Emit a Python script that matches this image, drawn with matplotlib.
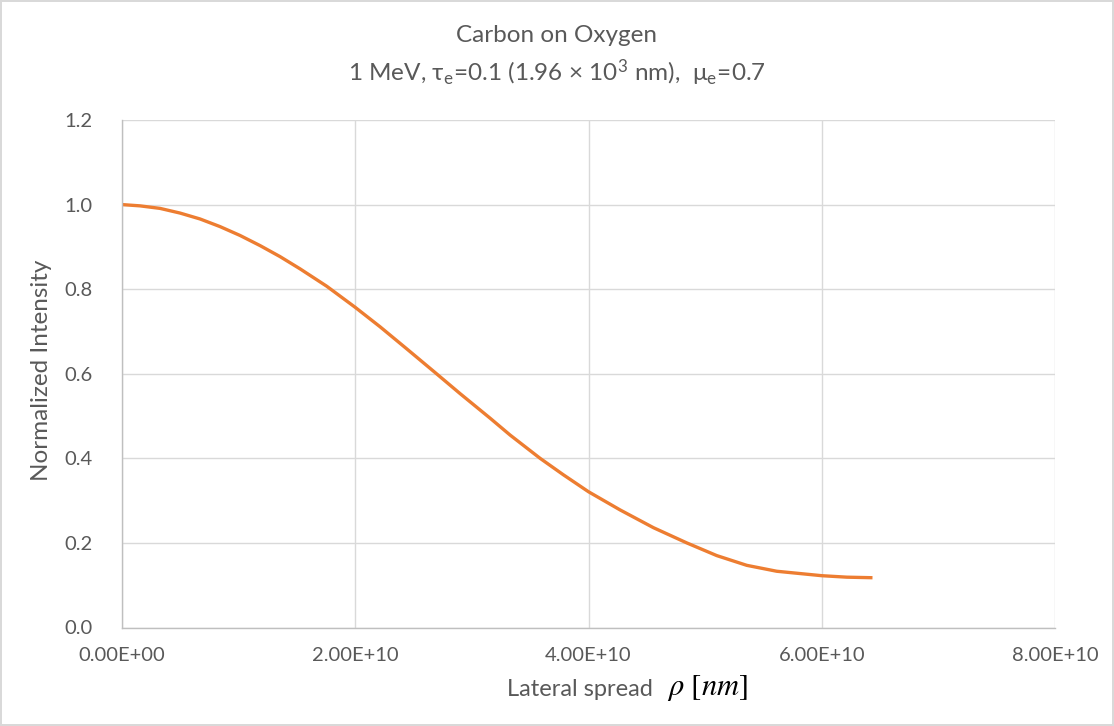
import matplotlib
matplotlib.use("Agg")
import matplotlib.pyplot as plt
from matplotlib.ticker import FuncFormatter, MultipleLocator

plt.rcParams['font.family'] = ['Lato', 'DejaVu Sans']
plt.rcParams['mathtext.fontset'] = 'stix'

# Data (lateral spread in nm, normalized intensity)
rho = [0.0, 0.154e10, 0.326e10, 0.497e10, 0.669e10, 0.840e10, 1.012e10,
       1.184e10, 1.355e10, 1.527e10, 1.755e10, 2.000e10, 2.213e10, 2.441e10,
       2.684e10, 2.899e10, 3.156e10, 3.328e10, 3.585e10, 3.785e10, 4.000e10,
       4.271e10, 4.557e10, 4.843e10, 5.100e10, 5.357e10, 5.614e10, 6.000e10,
       6.215e10, 6.435e10]
intensity = [1.000, 0.997, 0.991, 0.980, 0.966, 0.948, 0.927,
             0.903, 0.877, 0.848, 0.807, 0.757, 0.711, 0.659,
             0.603, 0.553, 0.495, 0.455, 0.400, 0.361, 0.321,
             0.278, 0.236, 0.200, 0.170, 0.147, 0.133, 0.1225,
             0.119, 0.1177]

title = "Carbon on Oxygen"
subtitle = (r"1 MeV, τ$_\mathregular{e}$=0.1 (1.96 × 10$^\mathregular{3}$ nm),  "
            r"μ$_\mathregular{e}$=0.7")
xlabel_text = "Lateral spread"
xlabel_math = r"$\rho\ [nm]$"
ylabel = "Normalized Intensity"

text_color = "#595959"
grid_color = "#d9d9d9"
line_color = "#ED7D31"

W, H = 1114, 726
fig = plt.figure(figsize=(W / 100, H / 100), dpi=100)
fig.patch.set_facecolor("white")
fig.patch.set_edgecolor(grid_color)
fig.patch.set_linewidth(1.5)

ax = fig.add_axes([122 / W, (H - 627.5) / H, (1055 - 122) / W, (627.5 - 120) / H])
ax.plot(rho, intensity, color=line_color, lw=2.4, solid_capstyle='butt',
        solid_joinstyle='round')

ax.set_xlim(0, 8e10)
ax.set_ylim(0, 1.2)
ax.xaxis.set_major_locator(MultipleLocator(2e10))
ax.yaxis.set_major_locator(MultipleLocator(0.2))
ax.xaxis.set_major_formatter(FuncFormatter(lambda v, p: f"{v:.2E}"))
ax.yaxis.set_major_formatter(FuncFormatter(lambda v, p: f"{v:.1f}"))
ax.grid(True, color=grid_color, lw=1)
ax.set_axisbelow(True)
for s in ["top", "right"]:
    ax.spines[s].set_visible(False)
for s in ["left", "bottom"]:
    ax.spines[s].set_color("#bfbfbf")
    ax.spines[s].set_linewidth(1)
ax.tick_params(length=0, labelsize=14.5, labelcolor=text_color)
ax.tick_params(axis='y', pad=21)
ax.tick_params(axis='x', pad=14)

fig.text(42 / W, 1 - 370 / H, ylabel, rotation=90, ha="center", va="center",
         fontsize=17.5, color=text_color)
fig.text(653 / W, 1 - 690 / H, xlabel_text, ha="right", va="center",
         fontsize=17, color=text_color)
fig.text(667 / W, 1 - 688 / H, xlabel_math, ha="left", va="center",
         fontsize=22, color="black")

fig.text(0.5, 1 - 35 / H, title, ha="center", va="center", fontsize=17.5, color=text_color)
fig.text(0.5, 1 - 73 / H, subtitle, ha="center", va="center", fontsize=17.5, color=text_color)

fig.savefig("out.png", dpi=100, facecolor=fig.get_facecolor(), edgecolor=fig.get_edgecolor())
